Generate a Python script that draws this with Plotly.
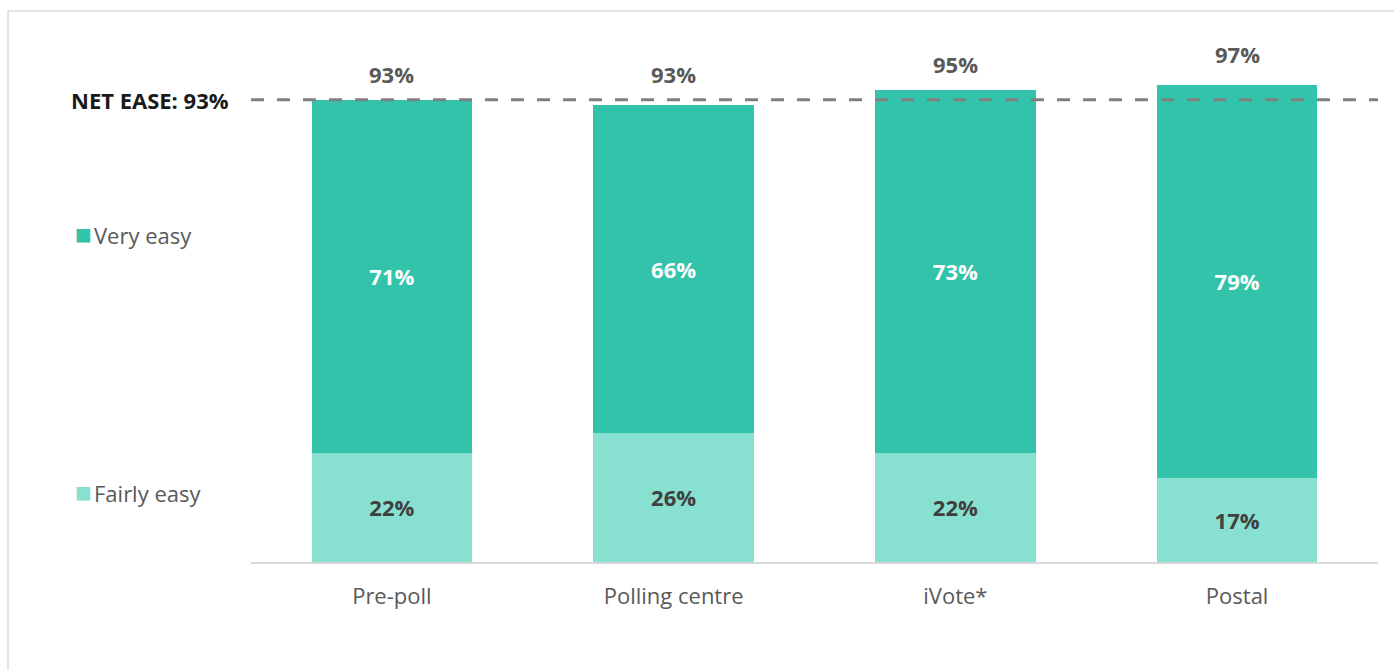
import plotly.graph_objects as go

# Survey results: ease of voting by method
categories = ["Pre-poll", "Polling centre", "iVote*", "Postal"]
fairly_easy = [22, 26, 22, 17]
very_easy = [71, 66, 73, 79]
net_ease = [93, 93, 95, 97]
overall_net = 93

VERY_COLOR = "#33C3AA"
FAIRLY_COLOR = "#88E0D0"
FONT = "Open Sans"
SIZE = 22

fig = go.Figure()

fig.add_trace(go.Bar(
    x=categories, y=fairly_easy, name="Fairly easy",
    marker=dict(color=FAIRLY_COLOR, line=dict(width=0)),
    text=[f"{v}%" for v in fairly_easy], textposition="inside",
    insidetextanchor="middle", constraintext="none",
    textfont=dict(family=FONT, size=SIZE, color="#404040", weight="bold"),
    hoverinfo="skip",
))
fig.add_trace(go.Bar(
    x=categories, y=very_easy, name="Very easy",
    marker=dict(color=VERY_COLOR, line=dict(width=0)),
    text=[f"{v}%" for v in very_easy], textposition="inside",
    insidetextanchor="middle", constraintext="none",
    textfont=dict(family=FONT, size=SIZE, color="white", weight="bold"),
    hoverinfo="skip",
))

# Net totals above each bar
for cat, tot in zip(categories, net_ease):
    fig.add_annotation(
        x=cat, y=tot, text=f"<b>{tot}%</b>", showarrow=False,
        yanchor="bottom", yshift=9,
        font=dict(family=FONT, size=SIZE, color="#595959"),
    )

# Overall net ease reference line
fig.add_shape(
    type="line", xref="paper", yref="y", x0=0, x1=1,
    y0=overall_net, y1=overall_net, layer="above",
    line=dict(color="#808080", width=3, dash="13px,13px"),
)
fig.add_annotation(
    xref="paper", yref="y", x=-0.018, y=overall_net,
    text=f"<b>NET EASE: {overall_net}%</b>", showarrow=False,
    xanchor="right", yanchor="middle",
    font=dict(family=FONT, size=SIZE, color="#1a1a1a"),
)

# Side legend labels aligned with the segments
fig.add_annotation(
    xref="paper", yref="y", x=-0.158, y=66.2, xanchor="left", yanchor="middle",
    text=f"<span style='color:{VERY_COLOR};font-size:28px'>■</span><span style='font-size:8px'> </span>Very easy",
    showarrow=False,
    font=dict(family=FONT, size=SIZE, color="#595959"),
)
fig.add_annotation(
    xref="paper", yref="y", x=-0.158, y=14.2, xanchor="left", yanchor="middle",
    text=f"<span style='color:{FAIRLY_COLOR};font-size:28px'>■</span><span style='font-size:8px'> </span>Fairly easy",
    showarrow=False,
    font=dict(family=FONT, size=SIZE, color="#595959"),
)

# Outer frame
fig.add_shape(
    type="rect", xref="paper", yref="paper",
    x0=-0.2156, x1=1.2, y0=-0.5, y1=1.1087, layer="below",
    line=dict(color="#d9d9d9", width=1.5), fillcolor="rgba(0,0,0,0)",
)

fig.update_layout(
    barmode="stack",
    bargap=0.43,
    width=1394, height=670,
    margin=dict(l=251, r=16, t=65, b=108),
    paper_bgcolor="white", plot_bgcolor="white",
    showlegend=False,
    xaxis=dict(
        showline=True, linecolor="#d9d9d9", linewidth=2,
        ticks="", showgrid=False, ticklabelstandoff=14,
        tickfont=dict(family=FONT, size=SIZE, color="#595959"),
    ),
    yaxis=dict(range=[0, 100], visible=False, showgrid=False),
)

fig.write_html("out.html")
